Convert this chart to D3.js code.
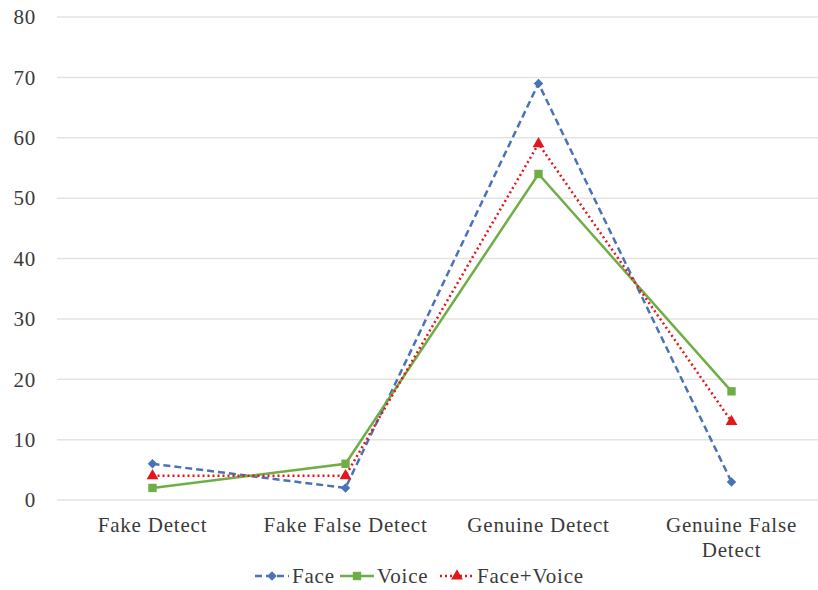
<!DOCTYPE html>
<html><head><meta charset="utf-8">
<script src="https://cdn.jsdelivr.net/npm/d3@7"></script>
<style>body{margin:0;background:#fff}svg{display:block}
svg text{font-family:"Liberation Serif","Times New Roman",Times,serif;letter-spacing:0.8px;}</style>
</head><body>
<svg id="c" width="818" height="590"></svg>
<script>
const categories = [["Fake Detect"], ["Fake False Detect"], ["Genuine Detect"], ["Genuine False", "Detect"]];
const faceValues = [6, 2, 69, 3];
const voiceValues = [2, 6, 54, 18];
const faceVoiceValues = [4, 4, 59, 13];
const seriesNames = ["Face", "Voice", "Face+Voice"];
const yTicks = [0, 10, 20, 30, 40, 50, 60, 70, 80];

const series = [
  {name: seriesNames[0], values: faceValues, color: "#4a72b8", dash: "7,4", symbol: d3.symbolSquare, size: 45, rot: 45},
  {name: seriesNames[1], values: voiceValues, color: "#6fae45", dash: null, symbol: d3.symbolSquare, size: 70, rot: 0},
  {name: seriesNames[2], values: faceVoiceValues, color: "#e3161d", dash: "2,3", symbol: d3.symbolTriangle, size: 60, rot: 0}
];

const svg = d3.select("#c");
const x = d3.scaleBand().domain(d3.range(categories.length)).range([56, 828]);
const y = d3.scaleLinear().domain([0, 80]).range([500, 17]);

svg.append("g").selectAll("line").data(yTicks).join("line")
  .attr("x1", 57).attr("x2", 818)
  .attr("y1", d => y(d)).attr("y2", d => y(d))
  .attr("stroke", "#e3e3e3").attr("stroke-width", 1.5);

svg.append("g").selectAll("text").data(yTicks).join("text")
  .attr("x", 36).attr("y", d => y(d)).attr("dy", "0.35em")
  .attr("text-anchor", "end").attr("font-size", 21)
  .attr("fill", "#3a3a3a").text(d => d);

const xl = svg.append("g").selectAll("text").data(categories).join("text")
  .attr("text-anchor", "middle").attr("font-size", 21)
  .attr("fill", "#3a3a3a");
xl.each(function(lines, i) {
  d3.select(this).selectAll("tspan").data(lines).join("tspan")
    .attr("x", x(i) + x.bandwidth() / 2)
    .attr("y", (d, j) => 532 + j * 25)
    .text(d => d);
});

const line = d3.line().x((d, i) => x(i) + x.bandwidth() / 2).y(d => y(d));
series.forEach(s => {
  svg.append("path").datum(s.values).attr("d", line)
    .attr("fill", "none").attr("stroke", s.color).attr("stroke-width", 2.5)
    .attr("stroke-dasharray", s.dash);
  svg.append("g").selectAll("path").data(s.values).join("path")
    .attr("transform", (d, i) => `translate(${x(i) + x.bandwidth() / 2},${y(d)}) rotate(${s.rot})`)
    .attr("d", d3.symbol().type(s.symbol).size(s.size))
    .attr("fill", s.color);
});

// legend
const legendX = [255, 340, 440];
const lg = svg.append("g");
series.forEach((s, i) => {
  const g = lg.append("g").attr("transform", `translate(${legendX[i]},576)`);
  g.append("line").attr("x1", 0).attr("x2", 34).attr("y1", 0).attr("y2", 0)
    .attr("stroke", s.color).attr("stroke-width", 2.5).attr("stroke-dasharray", s.dash);
  g.append("path").attr("transform", `translate(17,0) rotate(${s.rot})`)
    .attr("d", d3.symbol().type(s.symbol).size(s.size)).attr("fill", s.color);
  g.append("text").attr("x", 37).attr("y", 0).attr("dy", "0.35em")
    .attr("font-size", 21).attr("fill", "#3a3a3a").text(s.name);
});
</script>
</body></html>
